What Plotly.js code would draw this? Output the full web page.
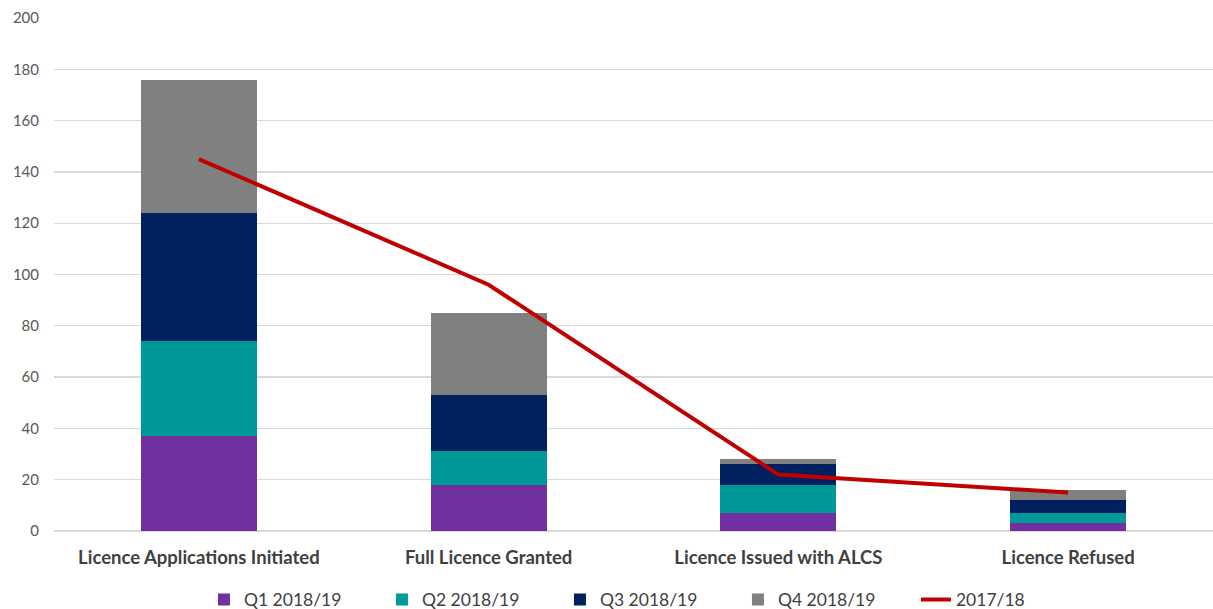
<!DOCTYPE html>
<html>
<head>
<meta charset="utf-8">
<script src="https://cdn.plot.ly/plotly-3.0.1.min.js"></script>
<style>html,body{margin:0;padding:0;background:#fff;}#chart{width:1213px;height:609px;}</style>
</head>
<body>
<div id="chart"></div>
<script>
const categories = ["Licence Applications Initiated", "Full Licence Granted", "Licence Issued with ALCS", "Licence Refused"];
const q1 = [37, 18, 7, 3];
const q2 = [37, 13, 11, 4];
const q3 = [50, 22, 8, 5];
const q4 = [52, 32, 2, 4];
const prev = [145, 96, 22, 15];
const yTicks = [0, 20, 40, 60, 80, 100, 120, 140, 160, 180, 200];

const font = "Lato, 'Open Sans', sans-serif";
const bar = (name, y, color) => ({
  type: "bar", name, x: categories, y,
  marker: {color, line: {width: 0}}, hoverinfo: "y"
});
const data = [
  bar("Q1 2018/19", q1, "#7030A0"),
  bar("Q2 2018/19", q2, "#009999"),
  bar("Q3 2018/19", q3, "#002060"),
  bar("Q4 2018/19", q4, "#808080"),
  {type: "scatter", mode: "lines", name: "2017/18", x: categories, y: prev,
   line: {color: "#C00000", width: 4}}
];
const layout = {
  width: 1213, height: 609,
  margin: {l: 54, r: 0, t: 18, b: 78, autoexpand: false},
  paper_bgcolor: "#fff", plot_bgcolor: "#fff",
  barmode: "stack", bargap: 0.6,
  font: {family: font, color: "#595959", size: 15},
  showlegend: true,
  legend: {orientation: "h", x: 0.535, xanchor: "center", xref: "container",
           y: -0.134, yanchor: "middle", yref: "paper",
           font: {family: font, size: 17.5, color: "#404040"}, traceorder: "normal",
           itemwidth: 30, entrywidth: 133, entrywidthmode: "pixels"},
  xaxis: {type: "category", showgrid: false, showline: false, ticks: "",
          ticklabelstandoff: 13, automargin: false,
          tickfont: {family: font, size: 18.5, color: "#404040", weight: "bold"}},
  yaxis: {range: [0, 200], tickvals: yTicks, ticktext: yTicks.map(String),
          showgrid: true, gridcolor: "#D9D9D9", gridwidth: 1.3, automargin: false,
          zeroline: true, zerolinecolor: "#D9D9D9", zerolinewidth: 1.3,
          showline: false, ticks: "", ticklabelstandoff: 14,
          tickfont: {family: font, size: 15, color: "#595959"}}
};
Plotly.newPlot("chart", data, layout, {displayModeBar: false, staticPlot: true});
</script>
</body>
</html>
